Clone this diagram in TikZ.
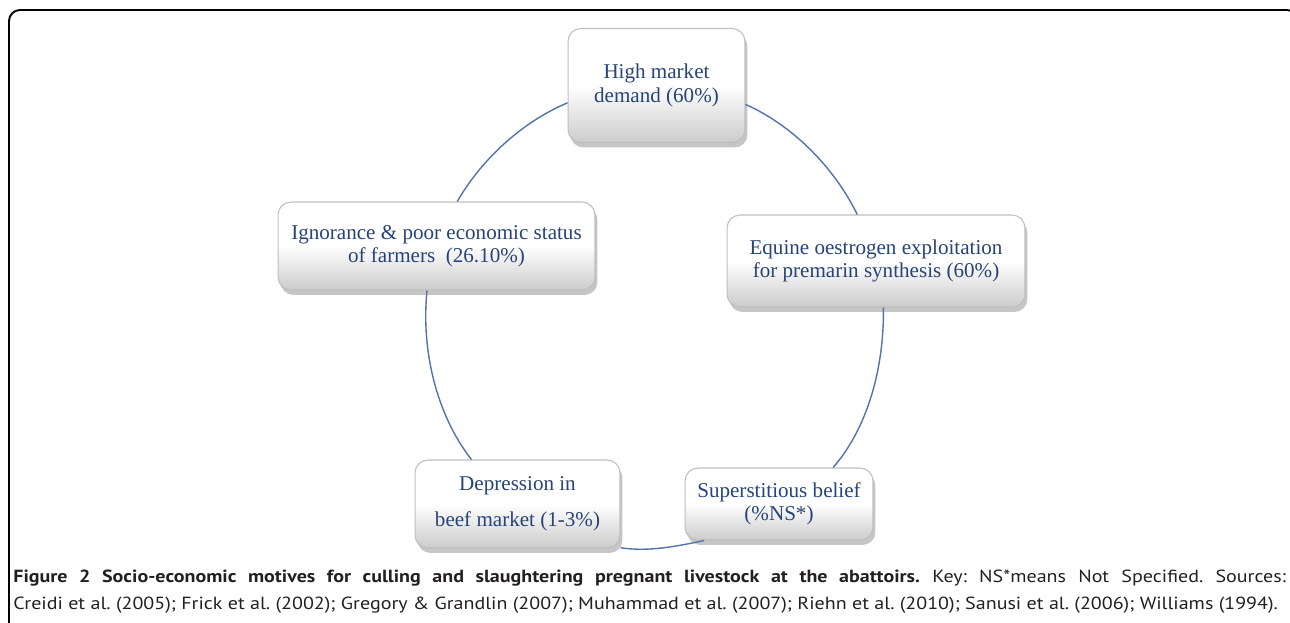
\documentclass[tikz,border=0pt]{standalone}
\usepackage{fontspec}
\setmainfont{Liberation Serif}
\newfontfamily\capfont[FakeStretch=1.14]{PT Sans}
\usetikzlibrary{shadows}
\definecolor{boxtext}{RGB}{38,68,120}
\definecolor{arcblue}{RGB}{82,116,170}
\definecolor{capgray}{RGB}{35,31,32}

\begin{document}
\begin{tikzpicture}[x=0.02cm,y=0.02cm,
    motive/.style={rounded corners=0.26cm, draw=gray!50, line width=0.6pt,
      top color=white, bottom color=gray!40, middle color=white,
      drop shadow={opacity=0.45, shadow xshift=0.5mm, shadow yshift=-1mm},
      align=center, text=boxtext, inner sep=0pt,
      font=\fontsize{12}{13.2}\selectfont},
    link/.style={draw=arcblue, line width=0.8pt, looseness=0.85}
  ]
  \useasboundingbox (0,0) rectangle (1290,622);
  \begin{scope}
    \clip (0,0) rectangle (1290,622);
    \draw[line width=1.1pt, rounded corners=0.22cm] (9,-30) -- (9,612) -- (1298,612) -- (1298,-30);
  \end{scope}

  \node[motive, minimum width=3.54cm, minimum height=2.28cm] (dem) at (656.5,536.5) {High market\\demand (60\%)};
  \node[motive, minimum width=6.34cm, minimum height=1.76cm] (ign) at (436.5,376) {Ignorance \& poor economic status\\of farmers~~(26.10\%)};
  \node[motive, minimum width=5.96cm, minimum height=1.84cm] (equ) at (876,361) {Equine oestrogen exploitation\\for premarin synthesis (60\%)};
  \node[motive, minimum width=4.10cm, minimum height=1.76cm] (dep) at (517.5,118) {Depression in\\[0.25cm]beef market (1-3\%)};
  \node[motive, minimum width=3.76cm, minimum height=1.44cm] (sup) at (779,118) {Superstitious belief\\(\%NS*)};

  % cycle, counter-clockwise
  \draw[link] (dem.191) to[out=203, in=60] (ign.65);
  \draw[link] (ign.258) to[out=264, in=128] (dep.136);
  \draw[link] (dep.337) to[out=351, in=192] (sup.206);
  \draw[link] (sup.34) to[out=49, in=271] (equ.279);
  \draw[link] (equ.112) to[out=116, in=336] (dem.348);

  \node[anchor=north west, align=justify, text width=25.46cm, inner sep=0pt, text=capgray,
    font=\capfont\fontsize{10}{15.3}\selectfont\frenchspacing] (cap) at (13,52)
    {\textbf{Figure 2 Socio-economic motives for culling and slaughtering pregnant livestock at the abattoirs.} Key: NS*means Not Specified. Sources:\linebreak
     Creidi et al. (2005); Frick et al. (2002); Gregory \& Grandlin (2007); Muhammad et al. (2007); Riehn et al. (2010); Sanusi et al. (2006); Williams (1994).};
\end{tikzpicture}
\end{document}
